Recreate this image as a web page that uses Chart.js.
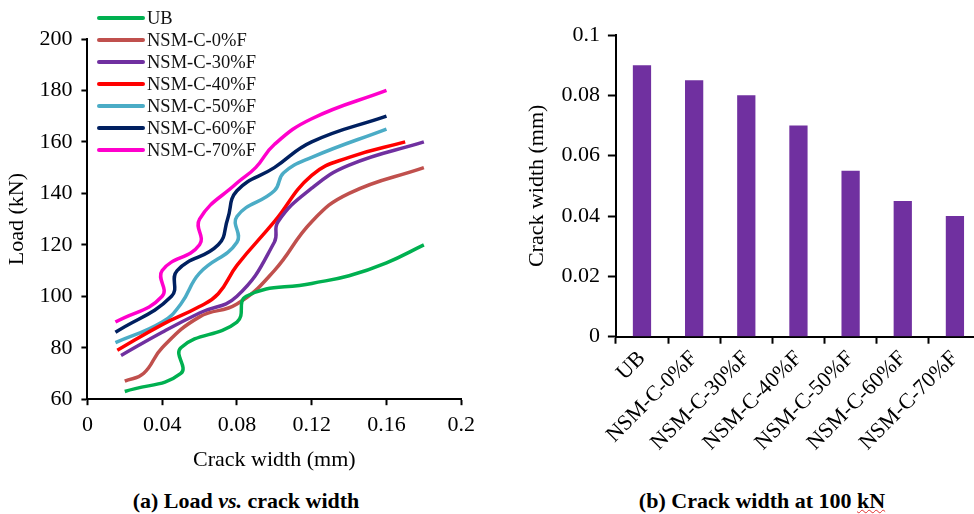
<!DOCTYPE html>
<html>
<head>
<meta charset="utf-8">
<script src="https://cdn.jsdelivr.net/npm/chart.js@4/dist/chart.umd.min.js"></script>
<style>
  html, body { margin: 0; padding: 0; background: #fff; overflow: hidden; }
  body { width: 974px; height: 514px; position: relative; font-family: "Liberation Serif", "Times New Roman", serif; }
  #leftBox { position: absolute; left: 0; top: 0; width: 482px; height: 473px; }
  #rightBox { position: absolute; left: 500px; top: 0; width: 482px; height: 458px; }
  .caption { position: absolute; font-weight: bold; font-size: 22px; color: #000; white-space: nowrap; transform: translateX(-50%); }
  .spell { text-decoration: underline wavy #e03030; text-decoration-thickness: 1px; }
  #legend { position: absolute; left: 97px; top: 7px; }
  .lg-row { height: 22px; display: flex; align-items: center; font-size: 18.5px; color: #111; }
  .lg-line { width: 48px; height: 4px; border-radius: 2px; margin-right: 2px; }
</style>
</head>
<body>
<div id="leftBox"><canvas id="loadChart"></canvas></div>
<div id="legend"></div>
<div id="rightBox"><canvas id="crackChart"></canvas></div>
<div class="caption" style="left:246px; top:488px;">(a) Load <i>vs.</i> crack width</div>
<div class="caption" style="left:762px; top:488px;">(b) Crack width at 100 <span class="spell">kN</span></div>

<script>
// Series names and colours
const seriesNames = ['UB', 'NSM-C-0%F', 'NSM-C-30%F', 'NSM-C-40%F', 'NSM-C-50%F', 'NSM-C-60%F', 'NSM-C-70%F'];
const seriesColors = ['#00B050', '#C0504D', '#7030A0', '#FF0000', '#4BACC6', '#002060', '#FF00CC'];

// (a) Load vs crack width - crack width (mm) and load (kN) per specimen
const ubWidth = [0.02, 0.05, 0.05, 0.08, 0.085, 0.12, 0.14, 0.16, 0.18];
const ubLoad = [63, 70, 80, 90, 100, 105, 108, 113, 120];
const f0Width = [0.02, 0.03, 0.04, 0.06, 0.08, 0.1, 0.12, 0.14, 0.18];
const f0Load = [67, 70, 80, 92, 97, 110, 129, 140, 150];
const f30Width = [0.018, 0.04, 0.06, 0.08, 0.1, 0.102, 0.12, 0.14, 0.18];
const f30Load = [77, 86, 93.5, 100, 121, 129, 142, 151, 160];
const f40Width = [0.016, 0.04, 0.06, 0.07, 0.08, 0.1, 0.12, 0.14, 0.17];
const f40Load = [79, 89, 96, 101, 112, 129, 147, 154, 160];
const f50Width = [0.015, 0.04, 0.05, 0.06, 0.08, 0.08, 0.1, 0.105, 0.12, 0.16];
const f50Load = [82, 90, 97, 109, 121, 131, 141, 148, 154, 165];
const f60Width = [0.015, 0.045, 0.048, 0.07, 0.075, 0.08, 0.1, 0.12, 0.16];
const f60Load = [86, 100, 110, 120, 130, 141, 150, 160, 170];
const f70Width = [0.015, 0.04, 0.04, 0.06, 0.06, 0.08, 0.09, 0.1, 0.12, 0.16];
const f70Load = [90, 100, 110, 120, 130, 144, 150, 159, 169, 180];

const widthSeries = [ubWidth, f0Width, f30Width, f40Width, f50Width, f60Width, f70Width];
const loadSeries = [ubLoad, f0Load, f30Load, f40Load, f50Load, f60Load, f70Load];

// (b) Crack width at 100 kN
const specimens = seriesNames;
const crackAt100 = [0.09, 0.085, 0.08, 0.07, 0.055, 0.045, 0.04];

const FONT = '"Liberation Serif", "Times New Roman", serif';
Chart.defaults.font.family = FONT;
Chart.defaults.color = '#000';

function fmt(v) {
    return Number(v.toFixed(2)).toString();
}

// Legend (HTML, built from series names/colours)
const legendEl = document.getElementById('legend');
seriesNames.forEach((name, i) => {
    const row = document.createElement('div');
    row.className = 'lg-row';
    row.innerHTML = '<span class="lg-line" style="background:' + seriesColors[i] + '"></span>' + name;
    legendEl.appendChild(row);
});

function buildLoadChart() {
    const datasets = seriesNames.map((name, i) => ({
        label: name,
        data: widthSeries[i].map((x, j) => ({ x: x, y: loadSeries[i][j] })),
        borderColor: seriesColors[i],
        backgroundColor: seriesColors[i],
        borderWidth: 3.5,
        showLine: true,
        pointRadius: 0,
        tension: 0.45,
        fill: false
    }));

    new Chart(document.getElementById('loadChart'), {
        type: 'scatter',
        data: { datasets: datasets },
        options: {
            responsive: true,
            maintainAspectRatio: false,
            animation: false,
            layout: { padding: { top: 39, right: 2, left: 0, bottom: 0 } },
            plugins: { legend: { display: false }, tooltip: { enabled: false } },
            scales: {
                x: {
                    type: 'linear',
                    min: 0, max: 0.2,
                    border: { display: true, color: '#000', width: 2 },
                    grid: { drawOnChartArea: false, color: '#000', tickLength: 6, tickWidth: 2 },
                    ticks: { stepSize: 0.04, font: { size: 22 }, padding: 7, callback: fmt },
                    title: { display: true, text: 'Crack width (mm)', font: { size: 22 }, padding: { top: 1, bottom: 0 } }
                },
                y: {
                    min: 60, max: 200,
                    border: { display: true, color: '#000', width: 2 },
                    grid: { drawOnChartArea: false, color: '#000', tickLength: 6, tickWidth: 2 },
                    ticks: { stepSize: 20, font: { size: 22 }, padding: 9 },
                    title: { display: true, text: 'Load (kN)', font: { size: 22 }, padding: { top: 4, bottom: 0 } }
                }
            }
        }
    });
}

function buildCrackChart() {
    new Chart(document.getElementById('crackChart'), {
        type: 'bar',
        data: {
            labels: specimens,
            datasets: [{
                label: 'Crack width at 100 kN',
                data: crackAt100,
                backgroundColor: '#7030A0',
                categoryPercentage: 1,
                barPercentage: 0.35
            }]
        },
        options: {
            responsive: true,
            maintainAspectRatio: false,
            animation: false,
            layout: { padding: { top: 35, right: 1, left: 8, bottom: 0 } },
            plugins: { legend: { display: false }, tooltip: { enabled: false } },
            scales: {
                x: {
                    border: { display: true, color: '#000', width: 2 },
                    grid: { drawOnChartArea: false, offset: true, color: '#000', tickLength: 7, tickWidth: 2 },
                    ticks: { font: { size: 22 }, minRotation: 45, maxRotation: 45, padding: 2 }
                },
                y: {
                    min: 0, max: 0.1,
                    border: { display: true, color: '#000', width: 2 },
                    grid: { drawOnChartArea: false, color: '#000', tickLength: 8, tickWidth: 2 },
                    ticks: { stepSize: 0.02, font: { size: 22 }, padding: 8, callback: fmt },
                    title: { display: true, text: 'Crack width (mm)', font: { size: 22 }, padding: { top: 16, bottom: 3 } }
                }
            }
        }
    });
}

buildLoadChart();
buildCrackChart();
</script>
</body>
</html>
